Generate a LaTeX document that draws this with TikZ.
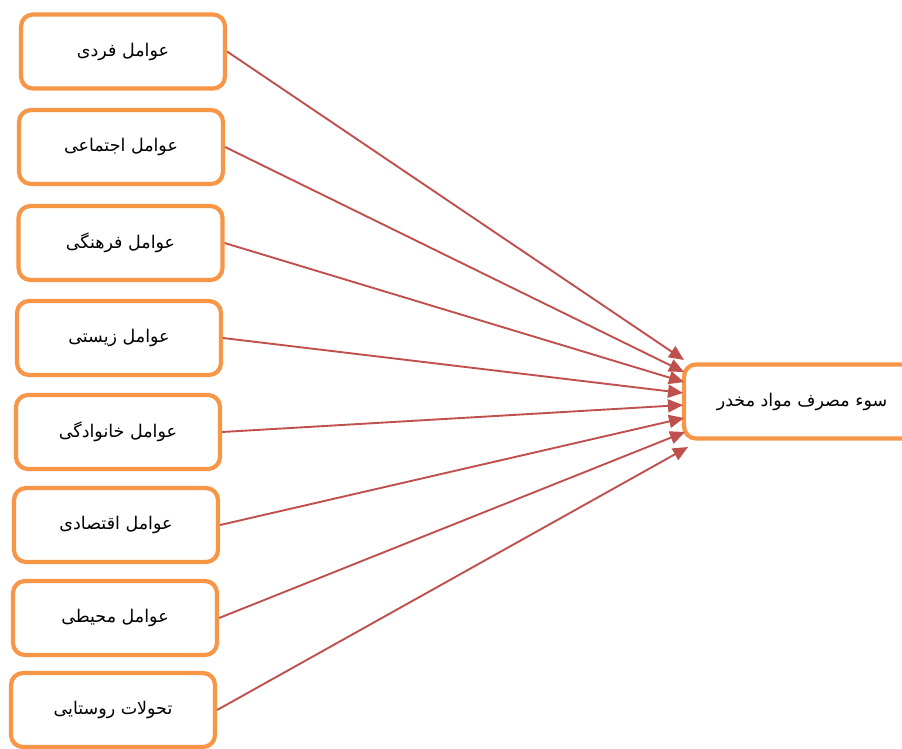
\documentclass[tikz,border=0pt]{standalone}
\usepackage{fontspec}
\usetikzlibrary{arrows.meta}
\TeXXeTstate=1
\newfontfamily\arabicfont[Script=Arabic]{DejaVu Sans}
\definecolor{boxorange}{HTML}{F79646}
\definecolor{linered}{HTML}{C0504D}
\begin{document}
\begin{tikzpicture}[x=1pt,y=-1pt,
  fbox/.style={draw=boxorange, line width=4.2pt, rounded corners=12pt,
    minimum width=204pt, minimum height=74pt, inner sep=0pt, fill=white,
    font=\arabicfont\fontsize{17.5}{21}\selectfont},
  conn/.style={draw=linered, line width=1.9pt, -{Triangle[length=15pt,width=13pt]}}]
\useasboundingbox (0,0) rectangle (902,748);
\clip (0,0) rectangle (902,748);
\node[fbox] (f1) at (123,51.5) {\beginR عوامل فردی\endR};
\node[fbox] (f2) at (121,147) {\beginR عوامل اجتماعی\endR};
\node[fbox] (f3) at (120.5,243) {\beginR عوامل فرهنگی\endR};
\node[fbox] (f4) at (119,338) {\beginR عوامل زیستی\endR};
\node[fbox] (f5) at (118,432) {\beginR عوامل خانوادگی\endR};
\node[fbox] (f6) at (116,525) {\beginR عوامل اقتصادی\endR};
\node[fbox] (f7) at (115,618) {\beginR عوامل محیطی\endR};
\node[fbox] (f8) at (113,710) {\beginR تحولات روستایی\endR};
\node[fbox, minimum width=236pt] (t) at (802,401.5) {\beginR سوء مصرف مواد مخدر\endR};
\coordinate (t1) at (684,360);
\coordinate (t2) at (684,372);
\coordinate (t3) at (684,382);
\coordinate (t4) at (683,393);
\coordinate (t5) at (683,405);
\coordinate (t6) at (684,418);
\coordinate (t7) at (685,432);
\coordinate (t8) at (688,447);
\foreach \i in {1,...,8}{
  \draw[conn] (f\i.east) -- (t\i);
}
\end{tikzpicture}
\end{document}
